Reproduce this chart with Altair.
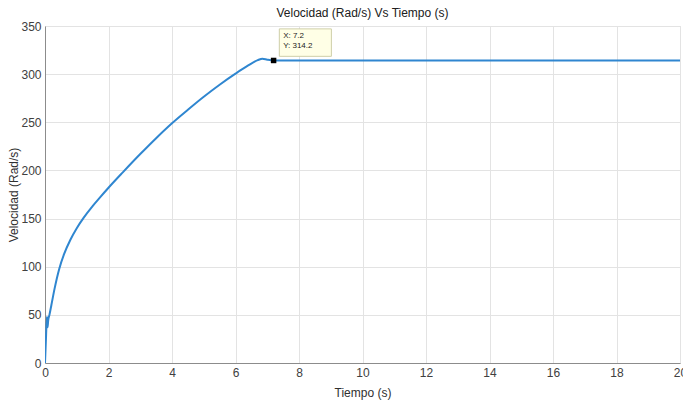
import altair as alt
import pandas as pd

# Data
t_vals = [0, 0.03, 0.06, 0.08, 0.10, 0.14, 0.2, 0.3, 0.45, 0.6, 0.8, 1.0, 1.22, 1.5, 1.72,
          2.0, 2.45, 3.0, 3.5, 4.0, 4.5, 5.0, 5.5, 6.0, 6.4, 6.7, 6.85, 7.0, 7.2, 20]
v_vals = [0, 25, 48, 37, 44, 50, 60, 77, 98, 113, 128, 140, 151, 163, 171.5,
          182, 198, 217, 233.5, 249, 263, 276.5, 289, 300.5, 309, 314.5, 316, 315, 314.2, 314.2]

tip_x = [7.2]
tip_y = [314.2]
tip_labels = ["X: 7.2", "Y: 314.2"]
tip_label_y = [340, 329]
box_x = [7.38]
box_x2 = [9.02]
box_y = [318.5]
box_y2 = [347]

x_ticks = list(range(0, 21, 2))
y_ticks = list(range(0, 351, 50))

df = pd.DataFrame({"t": t_vals, "v": v_vals})
tip_df = pd.DataFrame({"t": tip_x, "v": tip_y})
box_df = pd.DataFrame({"x": box_x, "x2": box_x2, "y": box_y, "y2": box_y2})
lab_df = pd.DataFrame({"t": [7.5, 7.5], "v": tip_label_y, "label": tip_labels})

FONT = "Liberation Sans"

xscale = alt.Scale(domain=[0, 20], nice=False, zero=False)
yscale = alt.Scale(domain=[0, 350], nice=False)

xaxis = alt.Axis(values=x_ticks, title="Tiempo (s)", grid=True, ticks=False,
                 labelPadding=4, titlePadding=9, labelFontSize=12, titleFontSize=12,
                 labelColor="#404040", titleColor="#303030", domainColor="#8c8c8c",
                 gridColor="#e3e3e3", labelFont=FONT, titleFont=FONT,
                 titleFontWeight="normal", labelFlush=False)
yaxis = alt.Axis(values=y_ticks, title="Velocidad (Rad/s)", grid=True, ticks=False,
                 labelPadding=4, titlePadding=0, labelFontSize=12, titleFontSize=12,
                 labelColor="#404040", titleColor="#303030", domainColor="#8c8c8c",
                 gridColor="#e3e3e3", labelFont=FONT, titleFont=FONT,
                 titleFontWeight="normal", labelFlush=False)

line = alt.Chart(df).mark_line(color="#2f86d0", strokeWidth=2, clip=True,
                               interpolate="monotone").encode(
    x=alt.X("t:Q", scale=xscale, axis=xaxis),
    y=alt.Y("v:Q", scale=yscale, axis=yaxis),
)

box = alt.Chart(box_df).mark_rect(fill="#ffffe6", stroke="#cfcfa8", strokeWidth=1).encode(
    x="x:Q", x2="x2:Q", y="y:Q", y2="y2:Q"
)

labels = alt.Chart(lab_df).mark_text(align="left", baseline="middle", fontSize=8,
                                      font=FONT, color="#222222").encode(
    x="t:Q", y="v:Q", text="label:N"
)

marker = alt.Chart(tip_df).mark_square(color="black", size=30, opacity=1).encode(
    x="t:Q", y="v:Q"
)

chart = alt.layer(line, box, labels, marker).properties(
    width=635,
    height=337,
    autosize=alt.AutoSizeParams(type="none"),
    padding={"left": 45, "top": 26, "right": 3, "bottom": 37},
    title=alt.TitleParams("Velocidad (Rad/s) Vs Tiempo (s)", fontSize=12, fontWeight="normal",
                          font=FONT, color="#202020", offset=0, anchor="middle"),
).configure_view(stroke="#a6a6a6", strokeWidth=1).configure(background="white")

chart.save("out.html", embed_options={"renderer": "svg", "actions": False})
